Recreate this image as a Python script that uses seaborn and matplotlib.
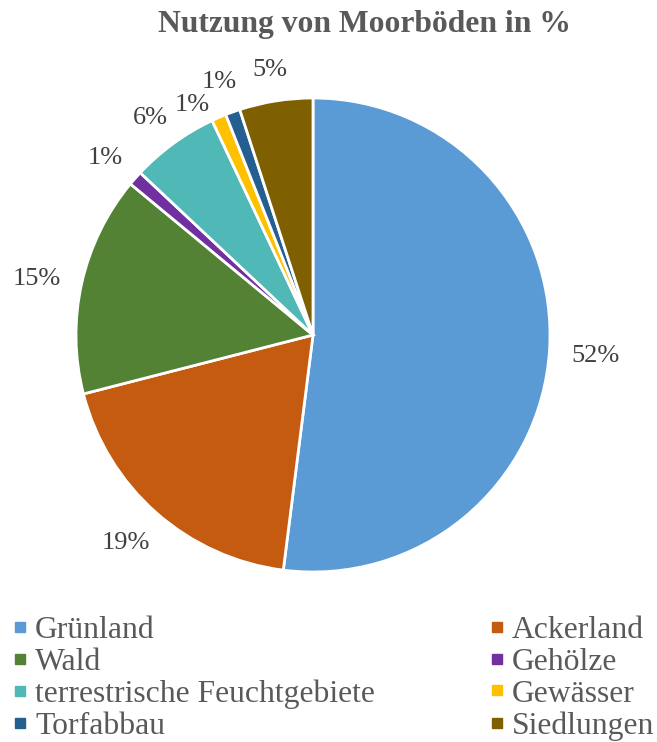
import numpy as np
import matplotlib
matplotlib.use("Agg")
import matplotlib.pyplot as plt
import seaborn as sns
from matplotlib.lines import Line2D

categories = ["Grünland", "Ackerland", "Wald", "Gehölze",
              "terrestrische Feuchtgebiete", "Gewässer", "Torfabbau", "Siedlungen"]
values = [52, 19, 15, 1, 6, 1, 1, 5]
colors = ["#5B9BD5", "#C55A11", "#548235", "#7030A0",
          "#50B8B6", "#FFC000", "#255E91", "#7F6000"]
title = "Nutzung von Moorböden in %"

sns.set_theme(style="white")
plt.rcParams["font.family"] = ["Liberation Serif", "DejaVu Serif"]

W, H = 657, 742
fig = plt.figure(figsize=(W / 100, H / 100), dpi=100)
fig.patch.set_facecolor("white")

cx, cy, R = 313, 335, 237
ax = fig.add_axes([(cx - R) / W, (H - cy - R) / H, 2 * R / W, 2 * R / H])
palette = sns.color_palette(colors)
wedges, _ = ax.pie(values, colors=palette, startangle=90, counterclock=False,
                   radius=1, wedgeprops=dict(edgecolor="white", linewidth=2))
ax.set_xlim(-1, 1)
ax.set_ylim(-1, 1)
ax.set_aspect("equal")
ax.axis("off")

fs_lab = 19
labels = []
offsets = []
for w, v in zip(wedges, values):
    th = np.deg2rad((w.theta1 + w.theta2) / 2)
    c, s = np.cos(th), np.sin(th)
    txt = f"{v}%"
    half_w = 0.5 * fs_lab * (0.5 * len(str(v)) + 0.833)
    half_h = 0.5 * fs_lab * 1.0
    off = [c * half_w, s * half_h - 2.5]
    a = ax.annotate(txt, xy=(1.093 * c, 1.093 * s), xytext=tuple(off),
                    textcoords="offset points", ha="center", va="center",
                    fontsize=fs_lab, color="#404040", annotation_clip=False)
    labels.append(a)
    offsets.append(off)

# resolve overlaps between neighbouring labels (shift the earlier one down-left)
fig.canvas.draw()
renderer = fig.canvas.get_renderer()
for i in range(len(labels) - 1):
    for _ in range(60):
        b1 = labels[i].get_window_extent(renderer)
        b2 = labels[i + 1].get_window_extent(renderer)
        if not b1.overlaps(b2):
            break
        offsets[i][0] -= 0.5
        offsets[i][1] -= 0.8
        labels[i].set_position(tuple(offsets[i]))
        fig.canvas.draw()

fig.text(364.5 / W, 1 - 32 / H, title, ha="center", va="baseline",
         fontsize=22.8, fontweight="bold", color="#595959")

handles = [Line2D([0], [0], marker="s", linestyle="none", markersize=7.2,
                  markerfacecolor=col, markeredgecolor=col) for col in palette]
# row-major order for a 2-column legend
order = list(range(0, len(categories), 2)) + list(range(1, len(categories), 2))
leg = fig.legend([handles[i] for i in order], [categories[i] for i in order],
                 loc="upper left", ncol=2,
                 bbox_to_anchor=(12 / W, 1 - 616 / H), bbox_transform=fig.transFigure,
                 frameon=False, fontsize=22.8, borderpad=0, borderaxespad=0,
                 handlelength=0.5, handletextpad=0.23, labelspacing=0.08,
                 columnspacing=3.6)
for t in leg.get_texts():
    t.set_color("#595959")

fig.savefig("out.png", dpi=100, facecolor="white")
